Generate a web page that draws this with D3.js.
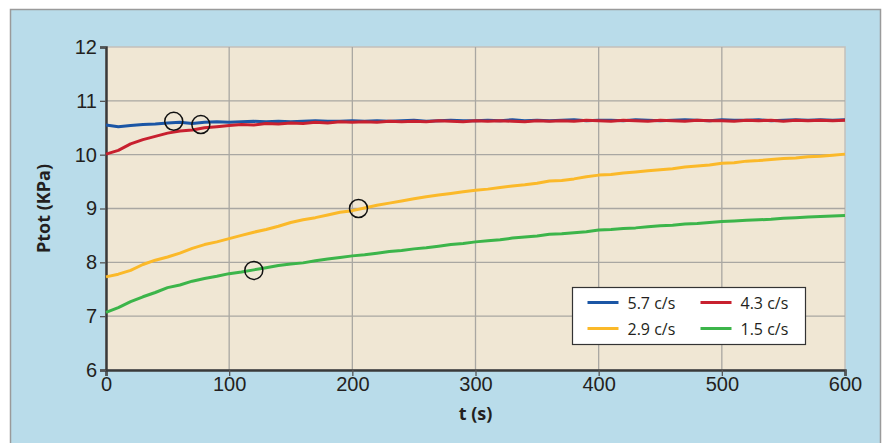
<!DOCTYPE html>
<html>
<head>
<meta charset="utf-8">
<script src="https://cdn.jsdelivr.net/npm/d3@7"></script>
<style>
  body { margin: 0; background: #fff; }
  svg { display: block; font-family: "Open Sans", "Noto Sans", sans-serif; }
  .grid line { stroke: #a9a7a2; stroke-width: 1.3; }
  .tick text { fill: #231f20; font-size: 20px; }
</style>
</head>
<body>
<div id="chart"></div>
<script>
// time axis, one reading every 10 s
var times = d3.range(0, 601, 10);

var series57 = [10.55, 10.52, 10.54, 10.56, 10.57, 10.59, 10.60, 10.58, 10.60, 10.61,
  10.60, 10.61, 10.62, 10.61, 10.62, 10.61, 10.62, 10.63, 10.62, 10.62,
  10.63, 10.62, 10.63, 10.62, 10.63, 10.64, 10.62, 10.63, 10.64, 10.63,
  10.63, 10.64, 10.63, 10.65, 10.63, 10.64, 10.63, 10.64, 10.65, 10.63,
  10.64, 10.64, 10.63, 10.65, 10.64, 10.63, 10.64, 10.65, 10.64, 10.63,
  10.65, 10.64, 10.64, 10.65, 10.63, 10.64, 10.65, 10.64, 10.65, 10.64, 10.65];

var series43 = [10.01, 10.08, 10.20, 10.28, 10.34, 10.40, 10.44, 10.46, 10.50, 10.52,
  10.54, 10.56, 10.55, 10.58, 10.57, 10.59, 10.58, 10.60, 10.59, 10.61,
  10.60, 10.61, 10.60, 10.62, 10.61, 10.62, 10.61, 10.63, 10.62, 10.61,
  10.63, 10.62, 10.63, 10.62, 10.61, 10.63, 10.62, 10.63, 10.62, 10.64,
  10.63, 10.62, 10.64, 10.63, 10.62, 10.64, 10.63, 10.62, 10.64, 10.63,
  10.63, 10.62, 10.64, 10.63, 10.64, 10.62, 10.64, 10.63, 10.64, 10.63, 10.64];

var series29 = [7.73, 7.78, 7.85, 7.96, 8.04, 8.10, 8.17, 8.26, 8.33, 8.38,
  8.44, 8.50, 8.56, 8.61, 8.67, 8.74, 8.79, 8.83, 8.88, 8.93,
  8.96, 9.01, 9.06, 9.10, 9.14, 9.18, 9.22, 9.25, 9.28, 9.31,
  9.34, 9.36, 9.39, 9.42, 9.44, 9.47, 9.51, 9.52, 9.55, 9.59,
  9.62, 9.63, 9.66, 9.68, 9.70, 9.72, 9.74, 9.77, 9.79, 9.81,
  9.84, 9.85, 9.88, 9.89, 9.91, 9.93, 9.94, 9.96, 9.97, 9.99, 10.01];

var series15 = [7.07, 7.16, 7.27, 7.36, 7.44, 7.53, 7.58, 7.65, 7.70, 7.74,
  7.79, 7.82, 7.86, 7.90, 7.94, 7.97, 7.99, 8.03, 8.06, 8.09,
  8.12, 8.14, 8.17, 8.20, 8.22, 8.25, 8.27, 8.30, 8.33, 8.35,
  8.38, 8.40, 8.42, 8.45, 8.47, 8.49, 8.52, 8.53, 8.55, 8.57,
  8.60, 8.61, 8.63, 8.64, 8.66, 8.68, 8.69, 8.71, 8.72, 8.74,
  8.76, 8.77, 8.78, 8.79, 8.80, 8.82, 8.83, 8.84, 8.85, 8.86, 8.87];

var seriesNames = ["5.7 c/s", "4.3 c/s", "2.9 c/s", "1.5 c/s"];
var seriesColors = ["#1b56a5", "#c8202f", "#fbb929", "#3cb54a"];
var seriesValues = [series57, series43, series29, series15];

// circled points on the curves
var markT = [55, 77, 205, 120];
var markV = [10.62, 10.56, 9.0, 7.85];

var xTicks = [0, 100, 200, 300, 400, 500, 600];
var yTicks = [6, 7, 8, 9, 10, 11, 12];

var width = 882, height = 443;
var margin = {top: 47, right: 37, bottom: 73, left: 106};

var svg = d3.select("#chart").append("svg")
    .attr("width", width)
    .attr("height", height);

// blue panel behind everything
svg.append("rect")
    .attr("x", 10.5).attr("y", 9.5)
    .attr("width", 870).attr("height", 445)
    .attr("fill", "#b9dcea")
    .attr("stroke", "#9a9a9a")
    .attr("stroke-width", 1.5);

var x = d3.scaleLinear().domain([0, 600]).range([margin.left, width - margin.right]);
var y = d3.scaleLinear().domain([6, 12]).range([height - margin.bottom, margin.top]);

// plot area
svg.append("rect")
    .attr("x", x(0)).attr("y", y(12))
    .attr("width", x(600) - x(0)).attr("height", y(6) - y(12))
    .attr("fill", "#f0e7d4")
    .attr("stroke", "#c3c0bb")
    .attr("stroke-width", 1.5);

//grid lines
var grid = svg.append("g").attr("class", "grid");
grid.selectAll(".gx")
    .data(xTicks.slice(1, -1))
    .enter().append("line")
    .attr("x1", function(d) { return x(d); })
    .attr("x2", function(d) { return x(d); })
    .attr("y1", y(12)).attr("y2", y(6));
grid.selectAll(".gy")
    .data(yTicks.slice(1, -1))
    .enter().append("line")
    .attr("x1", x(0)).attr("x2", x(600))
    .attr("y1", function(d) { return y(d); })
    .attr("y2", function(d) { return y(d); });

// axes
var xAxis = svg.append("g")
    .attr("transform", "translate(0," + y(6) + ")")
    .call(d3.axisBottom(x).tickValues(xTicks).tickFormat(d3.format("d")).tickSize(6).tickPadding(1));
var yAxis = svg.append("g")
    .attr("transform", "translate(" + x(0) + ",0)")
    .call(d3.axisLeft(y).tickValues(yTicks).tickFormat(d3.format("d")).tickSize(6).tickPadding(3));
[xAxis, yAxis].forEach(function(a) {
    a.select(".domain").attr("stroke", "#3a3a3a").attr("stroke-width", 2.5);
    a.selectAll(".tick line").attr("stroke", "#555").attr("stroke-width", 1.3);
});

// curves
var line = d3.line()
    .x(function(d) { return x(d[0]); })
    .y(function(d) { return y(d[1]); });

var drawOrder = [2, 3, 0, 1];
drawOrder.forEach(function(i) {
    var pts = times.map(function(t, k) { return [t, seriesValues[i][k]]; });
    svg.append("path")
        .datum(pts)
        .attr("fill", "none")
        .attr("stroke", seriesColors[i])
        .attr("stroke-width", 3)
        .attr("stroke-linejoin", "round")
        .attr("d", line);
});

// circles
svg.selectAll(".mark")
    .data(markT)
    .enter().append("circle")
    .attr("cx", function(d) { return x(d); })
    .attr("cy", function(d, i) { return y(markV[i]); })
    .attr("r", 9)
    .attr("fill", "none")
    .attr("stroke", "#111")
    .attr("stroke-width", 1.5);

// legend
var legend = svg.append("g").attr("transform", "translate(572.5,287.5)");
legend.append("rect")
    .attr("width", 233).attr("height", 57)
    .attr("fill", "#fff")
    .attr("stroke", "#333")
    .attr("stroke-width", 1.2);
seriesNames.forEach(function(name, i) {
    var col = i % 2, row = Math.floor(i / 2);
    var g = legend.append("g").attr("transform", "translate(" + (15 + col * 113) + "," + (15 + row * 26) + ")");
    g.append("line")
        .attr("x1", 0).attr("x2", 31)
        .attr("stroke", seriesColors[i]).attr("stroke-width", 3);
    g.append("text")
        .attr("x", 40).attr("y", 6)
        .attr("font-size", 16).attr("fill", "#231f20")
        .text(name);
});

// axis titles
svg.append("text")
    .attr("x", x(300)).attr("y", 420)
    .attr("text-anchor", "middle")
    .attr("font-size", 18).attr("font-weight", "bold").attr("fill", "#231f20")
    .text("t (s)");
svg.append("text")
    .attr("transform", "translate(50," + y(9) + ") rotate(-90)")
    .attr("text-anchor", "middle")
    .attr("font-size", 18).attr("font-weight", "bold").attr("fill", "#231f20")
    .text("Ptot (KPa)");
</script>
</body>
</html>
